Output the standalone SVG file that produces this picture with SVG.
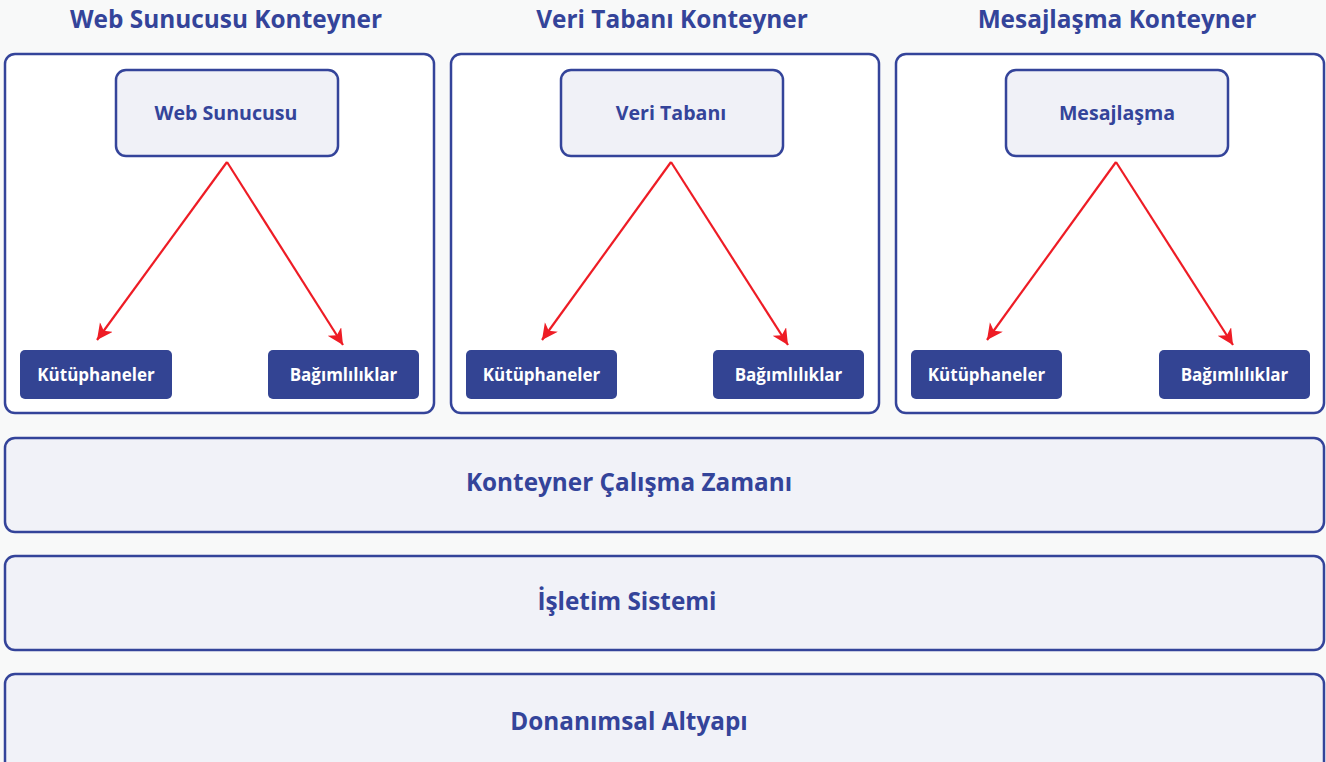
<svg xmlns="http://www.w3.org/2000/svg" width="1326" height="762" viewBox="0 0 1326 762">
<defs>
<style>
.bg{fill:#f8f9f9}
.cont{fill:#ffffff;stroke:#34449a;stroke-width:2.5}
.top{fill:#f0f1f7;stroke:#34449a;stroke-width:2.5}
.sub{fill:#334493}
.layer{fill:#f1f2f8;stroke:#34449a;stroke-width:2.5}
.title{font-family:"Open Sans","Noto Sans",sans-serif;font-weight:bold;font-size:24.4px;fill:#34449a;text-anchor:middle}
.ntxt{font-family:"Open Sans","Noto Sans",sans-serif;font-weight:bold;font-size:19.6px;fill:#34449a;text-anchor:middle}
.stxt{font-family:"Open Sans","Noto Sans",sans-serif;font-weight:bold;font-size:17px;fill:#ffffff;text-anchor:middle}
.ltxt{font-family:"Open Sans","Noto Sans",sans-serif;font-weight:bold;font-size:24.3px;fill:#34449a;text-anchor:middle}
.arr{stroke:#ee1c25;stroke-width:2.2;fill:none;marker-end:url(#ah)}
</style>
<marker id="ah" markerWidth="18" markerHeight="18" refX="16" refY="8" orient="auto" markerUnits="userSpaceOnUse">
<path d="M0,0 L16,8 L0,16 L4.5,8 z" fill="#ee1c25"/>
</marker>
</defs>
<rect class="bg" x="0" y="0" width="1326" height="762"/>

<text class="title" x="226" y="28">Web Sunucusu Konteyner</text>
<text class="title" x="672" y="28">Veri Tabanı Konteyner</text>
<text class="title" x="1117" y="28">Mesajlaşma Konteyner</text>

<g id="container-web">
<rect class="cont" x="5" y="54" width="429" height="359" rx="10"/>
</g>
<g id="container-db">
<rect class="cont" x="451" y="54" width="428" height="359" rx="10"/>
</g>
<g id="container-msg">
<rect class="cont" x="896" y="54" width="428" height="359" rx="10"/>
</g>

<g id="web-server">
<rect class="top" x="116" y="70" width="222" height="86" rx="10"/>
<text class="ntxt" x="226" y="120">Web Sunucusu</text>
</g>
<g id="web-lib">
<rect class="sub" x="20" y="350" width="152" height="49" rx="5"/>
<text class="stxt" x="96" y="381">Kütüphaneler</text>
</g>
<g id="web-dep">
<rect class="sub" x="268" y="350" width="151" height="49" rx="5"/>
<text class="stxt" x="343.5" y="381">Bağımlılıklar</text>
</g>

<g id="db">
<rect class="top" x="561" y="70" width="222" height="86" rx="10"/>
<text class="ntxt" x="671" y="120">Veri Tabanı</text>
</g>
<g id="db-lib">
<rect class="sub" x="466" y="350" width="151" height="49" rx="5"/>
<text class="stxt" x="541.5" y="381">Kütüphaneler</text>
</g>
<g id="db-dep">
<rect class="sub" x="713" y="350" width="151" height="49" rx="5"/>
<text class="stxt" x="788.5" y="381">Bağımlılıklar</text>
</g>

<g id="msg">
<rect class="top" x="1006" y="70" width="222" height="86" rx="10"/>
<text class="ntxt" x="1117" y="120">Mesajlaşma</text>
</g>
<g id="msg-lib">
<rect class="sub" x="911" y="350" width="151" height="49" rx="5"/>
<text class="stxt" x="986.5" y="381">Kütüphaneler</text>
</g>
<g id="msg-dep">
<rect class="sub" x="1159" y="350" width="151" height="49" rx="5"/>
<text class="stxt" x="1234.5" y="381">Bağımlılıklar</text>
</g>

<g id="connectors">
<line class="arr" x1="227" y1="162" x2="97" y2="340"/>
<line class="arr" x1="227" y1="162" x2="343" y2="345"/>
<line class="arr" x1="671" y1="162" x2="542" y2="340"/>
<line class="arr" x1="671" y1="162" x2="788" y2="345"/>
<line class="arr" x1="1116" y1="162" x2="987" y2="340"/>
<line class="arr" x1="1116" y1="162" x2="1233" y2="345"/>
</g>

<g id="runtime">
<rect class="layer" x="5" y="438" width="1319" height="94" rx="10"/>
<text class="ltxt" x="629" y="491">Konteyner Çalışma Zamanı</text>
</g>
<g id="os">
<rect class="layer" x="5" y="556" width="1319" height="94" rx="10"/>
<text class="ltxt" x="627" y="610">İşletim Sistemi</text>
</g>
<g id="hardware">
<rect class="layer" x="5" y="674" width="1319" height="100" rx="10"/>
<text class="ltxt" x="629" y="730">Donanımsal Altyapı</text>
</g>
</svg>
